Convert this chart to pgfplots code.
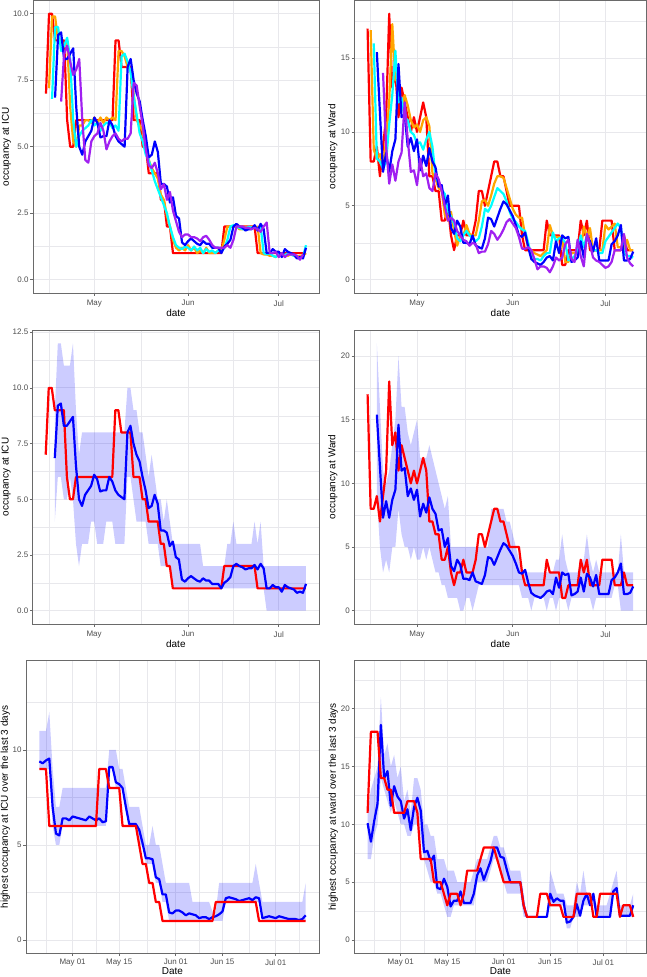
\documentclass[border=0pt]{standalone}
\usepackage{pgfplots}
\pgfplotsset{compat=1.18}
\usepackage{fontspec}
\setmainfont{Liberation Sans}
\definecolor{gg20}{HTML}{6A6A6A}
\definecolor{gg30}{HTML}{4D4D4D}
\definecolor{gg92}{HTML}{E8E8EC}
\definecolor{cR}{HTML}{FF0000}
\definecolor{cO}{HTML}{FFA500}
\definecolor{cC}{HTML}{00FFFF}
\definecolor{cB}{HTML}{0000FF}
\definecolor{cP}{HTML}{A020F0}
\pgfplotsset{
  gg/.style={
    scale only axis, anchor=south west,
    axis line style={draw=gg20, line width=0.8bp},
    tick pos=left, tick align=outside,
    major tick length=2.75bp, minor tick length=0bp,
    tick style={draw=gg20, line width=0.7bp},
    grid=both,
    major grid style={draw=gg92, line width=0.9bp},
    minor grid style={draw=gg92, line width=0.45bp},
    tick label style={font=\fontsize{8}{9}\selectfont, text=gg30, inner sep=1.5bp},
    xticklabel shift=3bp,
    label style={font=\fontsize{10}{12}\selectfont, text=black},
    xlabel style={at={(axis description cs:0.5,-0.069)}, anchor=center},
    every axis plot/.append style={line width=2.2bp, line join=round},
  },
  band/.style={fill=cB, fill opacity=0.2, draw=none, line width=0pt},
  ggA/.style={gg, xmin=9.7, xmax=104.3, xtick={30,61,91}, xticklabels={May,Jun,Jul}, minor xtick={15,45.5,76}, xlabel={date}},
  ggB/.style={gg, xmin=16, xmax=104, xtick={30,44,61,75,91}, xticklabels={May 01,May 15,Jun 01,Jun 15,Jul 01}, minor xtick={22,37,52.5,68,83,98}, xlabel={Date},
    xticklabel shift=1.5bp,
    xlabel style={at={(axis description cs:0.5,-0.062)}, anchor=center}},
}
\begin{document}
\begin{tikzpicture}
\path[use as bounding box] (0bp,0bp) rectangle (647bp,977bp);

% ---------- Panel 1: ICU, several horizons ----------
\begin{axis}[ggA, at={(33bp,684bp)}, width=286bp, height=292.5bp,
  ymin=-0.5, ymax=10.5, ytick={0,2.5,5,7.5,10}, yticklabels={0.0,2.5,5.0,7.5,10.0},
  minor ytick={1.25,3.75,6.25,8.75},
  ylabel={occupancy at ICU}, ylabel style={at={(axis description cs:-0.093,0.5)}, anchor=center}]
\addplot[cR] coordinates {(14,7)(15,10)(16,10)(17,9)(20,9)(21,6)(22,5)(23,5)(24,6)(36,6)(37,9)(38,9)(39,8)(42,8)(43,6)(45,6)(46,5)(47,5)(48,4)(51,4)(52,3)(53,3)(54,2)(55,2)(56,1)(72,1)(73,2)(83,2)(84,1)(100,1)};
\addplot[cO] coordinates {(15,7.2)(16,9.9)(17,9.9)(18,9.0)(19,9.0)(20,8.8)(21,9.0)(22,6.5)(23,5.2)(24,5.0)(25,5.8)(26,5.8)(27,6.0)(28,6.0)(29,5.9)(30,6.1)(31,5.9)(32,6.1)(33,5.9)(34,6.1)(35,6.0)(36,6.1)(37,6.0)(38,8.6)(39,8.6)(40,8.4)(41,8.0)(42,7.9)(43,7.0)(44,6.0)(45,5.8)(46,5.6)(47,5.0)(48,4.5)(49,4.2)(50,4.0)(51,3.8)(52,3.2)(53,3.0)(54,2.4)(55,2.0)(56,1.5)(57,1.2)(58,1.1)(59,1.2)(60,1.1)(61,1.3)(62,1.1)(63,1.2)(64,1.0)(65,1.1)(66,1.0)(67,1.2)(68,1.0)(69,1.0)(70,1.0)(71,1.1)(72,1.1)(73,1.5)(74,2.0)(75,2.0)(76,2.0)(77,2.0)(78,1.9)(79,1.9)(80,2.0)(81,1.9)(82,2.0)(83,1.95)(84,2.0)(85,1.0)(86,0.95)(87,0.95)(88,0.9)(89,0.9)(90,0.85)(91,0.95)(92,0.9)(93,0.95)(94,0.9)(95,0.95)(96,0.9)(97,0.85)(98,0.9)(99,0.9)(100,1.0)};
\addplot[cC] coordinates {(16,6.8)(17,9.5)(18,9.5)(19,8.6)(20,8.8)(21,9.1)(22,8.3)(23,6.0)(24,5.0)(25,5.4)(26,5.6)(27,5.7)(28,5.8)(29,6.0)(30,5.8)(31,5.9)(32,5.6)(33,5.8)(34,5.9)(35,5.9)(36,5.7)(37,5.8)(38,5.6)(39,8.4)(40,8.5)(41,8.2)(42,7.8)(43,6.9)(44,6.2)(45,5.5)(46,5.2)(47,4.7)(48,4.5)(49,4.1)(50,3.7)(51,3.4)(52,3.1)(53,2.8)(54,2.5)(55,2.0)(56,1.6)(57,1.3)(58,1.2)(59,1.15)(60,1.25)(61,1.2)(62,1.1)(63,1.25)(64,1.1)(65,1.2)(66,1.0)(67,1.15)(68,1.05)(69,1.1)(70,1.0)(71,1.1)(72,1.05)(73,1.2)(74,1.5)(75,2.0)(76,2.05)(77,2.0)(78,1.95)(79,1.9)(80,1.9)(81,2.0)(82,1.95)(83,2.0)(84,1.9)(85,2.0)(86,1.0)(87,0.95)(88,1.0)(89,0.9)(90,0.85)(91,1.0)(92,0.95)(93,0.9)(94,1.0)(95,0.95)(96,0.9)(97,0.85)(98,0.8)(99,0.85)(100,1.3)};
\addplot[cB] coordinates {(17,6.85)(18,9.2)(19,9.3)(20,8.3)(21,8.3)(22,8.5)(23,8.7)(24,6.5)(25,5.0)(26,4.7)(27,5.2)(28,5.4)(29,5.6)(30,6.1)(31,5.9)(32,5.35)(33,5.4)(34,5.4)(35,6.0)(36,5.8)(37,5.4)(38,5.2)(39,5.1)(40,5.0)(41,8.0)(42,8.3)(43,7.5)(44,7.0)(45,6.7)(46,6.0)(47,5.4)(48,4.6)(49,4.7)(50,5.2)(51,4.8)(52,3.6)(53,3.6)(54,3.5)(55,2.9)(56,3.1)(57,2.4)(58,2.3)(59,1.4)(60,1.3)(61,1.45)(62,1.55)(63,1.45)(64,1.35)(65,1.3)(66,1.45)(67,1.35)(68,1.35)(69,1.2)(70,1.2)(71,1.2)(72,1.0)(73,1.25)(74,1.35)(75,1.5)(76,2.0)(77,2.1)(78,2.0)(79,1.95)(80,1.85)(81,1.9)(82,1.9)(83,2.05)(84,1.85)(85,2.1)(86,1.9)(87,1.0)(88,1.0)(89,1.15)(90,1.05)(91,1.05)(92,0.85)(93,1.15)(94,1.05)(95,1.0)(96,0.95)(97,0.8)(98,0.85)(99,0.8)(100,1.2)};
\addplot[cP] coordinates {(19,6.7)(20,8.5)(21,8.8)(22,8.2)(23,7.7)(24,7.9)(25,8.3)(26,6.0)(27,4.5)(28,4.4)(29,5.2)(30,5.4)(31,5.5)(32,5.9)(33,5.6)(34,4.9)(35,5.2)(36,5.4)(37,5.5)(38,5.3)(39,5.2)(40,5.3)(41,5.3)(42,5.5)(43,7.4)(44,7.3)(45,6.5)(46,5.8)(47,4.9)(48,4.3)(49,4.2)(50,4.4)(51,4.0)(52,3.4)(53,3.6)(54,3.0)(55,3.3)(56,2.6)(57,2.2)(58,1.8)(59,1.6)(60,1.7)(61,1.7)(62,1.6)(63,1.6)(64,1.55)(65,1.45)(66,1.6)(67,1.65)(68,1.5)(69,1.3)(70,1.2)(71,1.2)(72,1.2)(73,1.2)(74,1.3)(75,1.2)(76,1.5)(77,2.0)(78,2.0)(79,2.0)(80,1.95)(81,1.95)(82,1.9)(83,1.95)(84,1.9)(85,1.8)(86,2.0)(87,2.15)(88,1.0)(89,1.0)(90,1.05)(91,0.85)(92,1.0)(93,0.85)(94,0.95)(95,0.95)(96,0.95)(97,0.9)(98,0.75)(99,0.95)};
\end{axis}

% ---------- Panel 2: Ward, several horizons ----------
\begin{axis}[ggA, at={(354.3bp,684bp)}, width=292.2bp, height=292.5bp,
  ymin=-0.9, ymax=18.9, ytick={0,5,10,15}, yticklabels={0,5,10,15},
  minor ytick={2.5,7.5,12.5,17.5},
  ylabel={occupancy at Ward}, ylabel style={at={(axis description cs:-0.074,0.5)}, anchor=center}]
\addplot[cR] coordinates {(14,17)(15,8)(16,8)(17,9)(18,7)(19,9)(20,11)(21,18)(22,13)(23,14)(24,11)(25,13)(26,12)(27,11)(28,10)(29,11)(30,10)(31,11)(32,12)(33,11)(34,7)(35,7)(36,6)(37,6)(38,4)(39,4)(40,5)(41,3)(42,2)(43,3)(44,3)(45,4)(46,3)(48,3)(49,4)(50,6)(51,6)(52,5)(53,6)(54,7)(55,8)(56,8)(57,7)(58,7)(59,6)(60,5)(63,5)(64,3)(65,2)(71,2)(72,4)(73,3)(76,3)(77,1)(78,1)(79,2)(82,2)(83,4)(84,3)(85,4)(86,2)(89,2)(90,4)(93,4)(94,2)(96,2)(97,3)(98,2)(100,2)};
\addplot[cO] coordinates {(15,16.9)(16,8.8)(17,8.2)(18,8.5)(19,7.6)(20,9.5)(21,12)(22,17.3)(23,13.5)(24,13.5)(25,11.5)(26,12.5)(27,11.8)(28,10.8)(29,10.3)(30,10.5)(31,10.0)(32,10.8)(33,11.0)(34,10.4)(35,7.2)(36,6.8)(37,6.2)(38,6.0)(39,4.4)(40,4.0)(41,4.6)(42,3.3)(43,2.3)(44,3.0)(45,3.0)(46,3.7)(47,3.1)(48,3.0)(49,3.0)(50,4.0)(51,5.3)(52,5.4)(53,5.0)(54,5.7)(55,6.5)(56,7.0)(57,7.0)(58,6.9)(59,6.2)(60,5.5)(61,4.8)(62,4.4)(63,4.2)(64,4.2)(65,3.0)(66,2.2)(67,2.0)(68,1.8)(69,1.7)(70,1.6)(71,1.8)(72,2.0)(73,3.7)(74,3.0)(75,2.9)(76,2.9)(77,2.8)(78,1.2)(79,1.2)(80,1.8)(81,1.8)(82,1.9)(83,2.0)(84,3.6)(85,2.9)(86,3.5)(87,2.0)(88,2.0)(89,2.0)(90,2.0)(91,3.7)(92,3.4)(93,3.6)(94,3.8)(95,2.2)(96,2.2)(97,2.0)(98,2.7)(99,2.0)(100,2.0)};
\addplot[cC] coordinates {(16,16)(17,8.2)(18,8.0)(19,7.5)(20,8.0)(21,10.5)(22,12.5)(23,15.5)(24,12.0)(25,12.3)(26,11.0)(27,10.8)(28,10.0)(29,9.8)(30,9.2)(31,9.3)(32,8.8)(33,9.5)(34,10.0)(35,9.0)(36,7.0)(37,6.5)(38,6.1)(39,5.8)(40,4.6)(41,4.3)(42,3.8)(43,2.8)(44,2.6)(45,3.0)(46,3.3)(47,3.0)(48,2.8)(49,2.6)(50,2.8)(51,3.6)(52,4.8)(53,4.6)(54,5.0)(55,5.6)(56,6.2)(57,6.0)(58,5.8)(59,5.3)(60,4.6)(61,4.1)(62,3.9)(63,3.6)(64,3.4)(65,3.3)(66,2.5)(67,1.6)(68,1.4)(69,1.4)(70,1.3)(71,1.6)(72,1.8)(73,1.8)(74,3.2)(75,2.6)(76,2.8)(77,2.8)(78,2.5)(79,1.3)(80,1.4)(81,1.6)(82,2.0)(83,3.0)(84,2.2)(85,3.0)(86,2.5)(87,2.0)(88,2.0)(89,1.8)(90,1.8)(91,2.6)(92,2.9)(93,3.2)(94,3.5)(95,3.8)(96,3.5)(97,1.8)(98,1.6)(99,1.6)(100,1.5)};
\addplot[cB] coordinates {(17,15.4)(18,11.3)(19,7.3)(20,8.6)(21,7.3)(22,8.7)(23,9.5)(24,14.6)(25,11.0)(26,11.2)(27,9.0)(28,9.6)(29,8.7)(30,9.5)(31,7.4)(32,8.4)(33,7.7)(34,8.9)(35,8.0)(36,7.6)(37,6.3)(38,6.4)(39,5.0)(40,5.7)(41,3.5)(42,3.1)(43,4.0)(44,3.6)(45,2.5)(46,2.5)(47,2.4)(48,3.0)(49,2.3)(50,2.2)(51,2.1)(52,2.8)(53,4.2)(54,4.1)(55,3.6)(56,4.2)(57,4.8)(58,5.3)(59,5.1)(60,4.7)(61,4.3)(62,3.7)(63,3.0)(64,2.9)(65,3.2)(66,2.2)(67,1.4)(68,1.2)(69,1.1)(70,1.0)(71,1.2)(72,1.5)(73,1.6)(74,1.3)(75,2.6)(76,1.8)(77,3.0)(78,2.8)(79,2.9)(80,1.2)(81,1.3)(82,1.5)(83,2.6)(84,1.5)(85,2.9)(86,2.6)(87,1.9)(88,2.8)(89,1.3)(90,1.3)(91,1.3)(92,1.3)(93,2.4)(94,2.6)(95,3.0)(96,3.7)(97,1.3)(98,1.3)(99,1.4)(100,1.9)};
\addplot[cP] coordinates {(19,14)(20,9)(21,6.5)(22,7.8)(23,6.7)(24,8)(25,8.6)(26,12)(27,9.5)(28,7.3)(29,7.4)(30,6.4)(31,8.2)(32,7.0)(33,7.2)(34,6.2)(35,6.0)(36,7.2)(37,6.8)(38,6.0)(39,5.0)(40,4.0)(41,4.2)(42,4.0)(43,3.3)(44,3.0)(45,2.7)(46,2.6)(47,2.3)(48,2.5)(49,2.4)(50,1.8)(51,1.9)(52,1.9)(53,2.4)(54,3.3)(55,3.1)(56,2.7)(57,3.0)(58,3.4)(59,3.9)(60,4.1)(61,3.8)(62,3.5)(63,2.9)(64,2.1)(65,2.1)(66,2.2)(67,2.0)(68,1.4)(69,0.7)(70,0.9)(71,0.9)(72,0.8)(73,0.5)(74,0.9)(75,1.5)(76,1.3)(77,1.5)(78,2.4)(79,2.7)(80,1.4)(81,1.2)(82,2.7)(83,1.6)(84,0.9)(85,3.1)(86,2.4)(87,1.5)(88,1.3)(89,1.2)(90,1.0)(91,0.8)(92,0.9)(93,1.2)(94,2.0)(95,2.0)(96,2.0)(97,3.1)(98,1.5)(99,1.1)(100,0.9)};
\end{axis}

% ---------- Panel 3: ICU with band ----------
\begin{axis}[ggA, at={(32.7bp,353bp)}, width=286.3bp, height=294bp,
  ymin=-0.6, ymax=12.6, ytick={0,2.5,5,7.5,10,12.5}, yticklabels={0.0,2.5,5.0,7.5,10.0,12.5},
  minor ytick={1.25,3.75,6.25,8.75,11.25},
  ylabel={occupancy at ICU}, ylabel style={at={(axis description cs:-0.093,0.5)}, anchor=center}]
% band: upper bound forward, lower bound backward
\addplot[band] coordinates {(17,9)(18,12)(19,12)(20,11)(22,11)(23,12)(24,9)(25,7)(26,8)(40,8)(41,10)(42,10)(43,9)(44,9)(45,8)(46,8)(47,7)(48,6)(49,7)(50,6)(51,5)(52,5)(53,4)(54,5)(55,4)(56,3)(65,3)(66,2)(73,2)(74,3)(75,3)(76,4)(77,3)(82,3)(83,4)(84,3)(85,4)(86,2)(100,2)
 (100,0)(87,0)(86,1)(56,1)(55,2)(52,2)(51,3)(48,3)(47,4)(44,4)(43,5)(42,6)(41,6)(40,3)(37,3)(36,4)(34,4)(33,3)(31,3)(30,4)(29,4)(28,3)(26,3)(25,2)(24,3)(23,5)(22,6)(21,5)(20,5)(19,6)(18,6)(17,4)};
\addplot[cR] coordinates {(14,7)(15,10)(16,10)(17,9)(20,9)(21,6)(22,5)(23,5)(24,6)(36,6)(37,9)(38,9)(39,8)(42,8)(43,6)(45,6)(46,5)(47,5)(48,4)(51,4)(52,3)(53,3)(54,2)(55,2)(56,1)(72,1)(73,2)(83,2)(84,1)(100,1)};
\addplot[cB] coordinates {(17,6.85)(18,9.2)(19,9.3)(20,8.3)(21,8.3)(22,8.5)(23,8.7)(24,6.5)(25,5.0)(26,4.7)(27,5.2)(28,5.4)(29,5.6)(30,6.1)(31,5.9)(32,5.35)(33,5.4)(34,5.4)(35,6.0)(36,5.8)(37,5.4)(38,5.2)(39,5.1)(40,5.0)(41,8.0)(42,8.3)(43,7.5)(44,7.0)(45,6.7)(46,6.0)(47,5.4)(48,4.6)(49,4.7)(50,5.2)(51,4.8)(52,3.6)(53,3.6)(54,3.5)(55,2.9)(56,3.1)(57,2.4)(58,2.3)(59,1.4)(60,1.3)(61,1.45)(62,1.55)(63,1.45)(64,1.35)(65,1.3)(66,1.45)(67,1.35)(68,1.35)(69,1.2)(70,1.2)(71,1.2)(72,1.0)(73,1.25)(74,1.35)(75,1.5)(76,2.0)(77,2.1)(78,2.0)(79,1.95)(80,1.85)(81,1.9)(82,1.9)(83,2.05)(84,1.85)(85,2.1)(86,1.9)(87,1.0)(88,1.0)(89,1.15)(90,1.05)(91,1.05)(92,0.85)(93,1.15)(94,1.05)(95,1.0)(96,0.95)(97,0.8)(98,0.85)(99,0.8)(100,1.2)};
\end{axis}

% ---------- Panel 4: Ward with band ----------
\begin{axis}[ggA, at={(354.3bp,353bp)}, width=292.2bp, height=294bp,
  ymin=-1.05, ymax=22.05, ytick={0,5,10,15,20}, yticklabels={0,5,10,15,20},
  minor ytick={2.5,7.5,12.5,17.5},
  ylabel={occupancy at Ward}, ylabel style={at={(axis description cs:-0.074,0.5)}, anchor=center}]
\addplot[band] coordinates {(17,21)(18,16)(19,11)(20,10)(21,11)(22,13)(23,15)(24,20)(25,16)(26,16)(27,14)(28,13)(29,14)(30,15)(31,12)(33,12)(34,13)(35,12)(36,11)(37,10)(38,9)(39,8)(40,9)(41,5)(53,5)(54,8)(58,8)(59,7)(60,7)(61,6)(62,5)(63,4)(64,3)(74,3)(75,4)(76,4)(77,6)(78,4)(79,3)(82,3)(83,4)(84,4)(85,6)(86,4)(87,3)(88,4)(89,3)(95,3)(96,6)(97,3)(100,3)
 (100,0)(96,0)(95,2)(94,2)(93,1)(88,1)(87,0)(86,1)(80,1)(79,0)(78,1)(76,1)(75,0)(74,1)(73,1)(72,0)(71,1)(68,1)(67,0)(66,1)(64,1)(63,2)(50,2)(49,1)(48,0)(47,1)(46,1)(45,0)(44,0)(43,1)(40,1)(39,2)(38,2)(37,3)(36,3)(35,4)(34,5)(33,4)(32,5)(31,4)(30,4)(29,5)(28,4)(27,5)(26,5)(25,6)(24,8)(23,5)(22,5)(21,3)(20,4)(19,3)(18,5)(17,9)};
\addplot[cR] coordinates {(14,17)(15,8)(16,8)(17,9)(18,7)(19,9)(20,11)(21,18)(22,13)(23,14)(24,11)(25,13)(26,12)(27,11)(28,10)(29,11)(30,10)(31,11)(32,12)(33,11)(34,7)(35,7)(36,6)(37,6)(38,4)(39,4)(40,5)(41,3)(42,2)(43,3)(44,3)(45,4)(46,3)(48,3)(49,4)(50,6)(51,6)(52,5)(53,6)(54,7)(55,8)(56,8)(57,7)(58,7)(59,6)(60,5)(63,5)(64,3)(65,2)(71,2)(72,4)(73,3)(76,3)(77,1)(78,1)(79,2)(82,2)(83,4)(84,3)(85,4)(86,2)(89,2)(90,4)(93,4)(94,2)(96,2)(97,3)(98,2)(100,2)};
\addplot[cB] coordinates {(17,15.4)(18,11.3)(19,7.3)(20,8.6)(21,7.3)(22,8.7)(23,9.5)(24,14.6)(25,11.0)(26,11.2)(27,9.0)(28,9.6)(29,8.7)(30,9.5)(31,7.4)(32,8.4)(33,7.7)(34,8.9)(35,8.0)(36,7.6)(37,6.3)(38,6.4)(39,5.0)(40,5.7)(41,3.5)(42,3.1)(43,4.0)(44,3.6)(45,2.5)(46,2.5)(47,2.4)(48,3.0)(49,2.3)(50,2.2)(51,2.1)(52,2.8)(53,4.2)(54,4.1)(55,3.6)(56,4.2)(57,4.8)(58,5.3)(59,5.1)(60,4.7)(61,4.3)(62,3.7)(63,3.0)(64,2.9)(65,3.2)(66,2.2)(67,1.4)(68,1.2)(69,1.1)(70,1.0)(71,1.2)(72,1.5)(73,1.6)(74,1.3)(75,2.6)(76,1.8)(77,3.0)(78,2.8)(79,2.9)(80,1.2)(81,1.3)(82,1.5)(83,2.6)(84,1.5)(85,2.9)(86,2.6)(87,1.9)(88,2.8)(89,1.3)(90,1.3)(91,1.3)(92,1.3)(93,2.4)(94,2.6)(95,3.0)(96,3.7)(97,1.3)(98,1.3)(99,1.4)(100,1.9)};
\end{axis}

% ---------- Panel 5: ICU max over last 3 days ----------
\begin{axis}[ggB, at={(26bp,23.7bp)}, width=293bp, height=292.6bp,
  ymin=-0.7, ymax=14.7, ytick={0,5,10}, yticklabels={0,5,10},
  minor ytick={2.5,7.5,12.5},
  ylabel={highest occupancy at ICU over the last 3 days}, ylabel style={at={(axis description cs:-0.071,0.5)}, anchor=center}]
\addplot[band] coordinates {(20,11)(22,11)(23,12)(24,9)(25,7)(26,7)(27,8)(40,8)(41,10)(43,10)(44,9)(45,9)(46,8)(47,7)(50,7)(51,6)(52,5)(53,5)(54,6)(55,5)(56,5)(57,4)(58,3)(65,3)(66,2)(71,2)(72,1.5)(73,1.5)(74,3)(84,3)(85,4)(86,3)(87,2)(99,2)(100,3)
 (100,1)(87,1)(86,2)(76,2)(75,1)(59,1)(58,2)(57,2)(56,3)(55,3)(54,4)(52,4)(51,5)(50,5)(49,6)(47,6)(46,7)(45,8)(43,8)(42,9)(41,9)(40,6)(27,6)(26,5)(25,5)(24,6)(23,9)(20,9)};
\addplot[cB] coordinates {(20,9.4)(21,9.3)(22,9.45)(23,9.55)(24,7.0)(25,5.6)(26,5.5)(27,6.4)(28,6.4)(29,6.3)(30,6.5)(31,6.45)(32,6.4)(33,6.35)(34,6.3)(35,6.5)(36,6.4)(37,6.3)(38,6.4)(39,6.2)(40,6.25)(41,9.1)(42,9.1)(43,8.3)(44,8.2)(45,8.0)(46,7.0)(47,6.1)(48,6.1)(49,6.1)(50,5.8)(51,5.1)(52,4.3)(53,4.3)(54,4.25)(55,3.3)(56,3.2)(57,2.4)(58,2.4)(59,1.45)(60,1.4)(61,1.55)(62,1.55)(63,1.45)(64,1.3)(65,1.4)(66,1.35)(67,1.3)(68,1.15)(69,1.2)(70,1.2)(71,1.1)(72,1.2)(73,1.25)(74,1.35)(75,1.5)(76,2.2)(77,2.25)(78,2.2)(79,2.15)(80,2.05)(81,2.1)(82,2.15)(83,2.2)(84,2.1)(85,2.25)(86,2.2)(87,1.15)(88,1.2)(89,1.25)(90,1.2)(91,1.15)(92,1.25)(93,1.2)(94,1.15)(95,1.1)(96,1.1)(97,1.1)(98,1.05)(99,1.1)(100,1.3)};
\addplot[cR] coordinates {(20,9)(22,9)(23,6)(37,6)(38,9)(40,9)(41,8)(44,8)(45,6)(49,6)(50,5)(51,4)(52,4)(53,3)(54,3)(55,2)(56,2)(57,1)(72,1)(73,2)(85,2)(86,1)(100,1)};
\end{axis}

% ---------- Panel 6: Ward max over last 3 days ----------
\begin{axis}[ggB, at={(354.3bp,23.7bp)}, width=292.2bp, height=292.6bp,
  ymin=-1.15, ymax=24.15, ytick={0,5,10,15,20}, yticklabels={0,5,10,15,20},
  minor ytick={2.5,7.5,12.5,17.5,22.5},
  ylabel={highest occupancy at ward over the last 3 days}, ylabel style={at={(axis description cs:-0.072,0.5)}, anchor=center}]
\addplot[band] coordinates {(20,11)(21,13)(22,14)(23,15)(24,21)(25,16)(26,17)(27,15)(28,16)(29,14)(30,15)(31,12)(32,13)(33,11)(34,14)(35,14)(36,13)(37,10)(38,10)(39,9)(40,9)(41,7)(43,7)(44,6)(46,6)(47,5)(51,5)(52,6)(53,7)(56,7)(57,8)(58,9)(59,9)(60,8)(61,8)(62,7)(63,6)(66,6)(67,4)(68,2)(74,2)(75,6)(76,5)(77,4)(79,4)(80,3)(82,3)(83,5)(84,4)(85,6)(86,4)(88,4)(89,3)(92,3)(93,4)(94,5)(95,6)(96,3)(99,3)(100,4)
 (100,2)(96,2)(95,4)(94,4)(93,2)(89,2)(88,3)(85,3)(84,2)(82,2)(81,1)(80,1)(79,3)(75,3)(74,2)(67,2)(66,4)(62,4)(61,5)(60,6)(59,7)(58,7)(57,6)(56,5)(53,5)(52,3)(51,3)(46,3)(45,2)(44,2)(43,3)(42,4)(41,4)(40,5)(39,5)(38,6)(37,7)(36,9)(35,10)(34,10)(33,9)(32,9)(31,10)(30,10)(29,11)(28,12)(27,11)(26,12)(25,13)(24,14)(23,10)(22,9)(21,7)(20,7)};
\addplot[cB] coordinates {(20,10.1)(21,8.5)(22,10.3)(23,11.8)(24,18.6)(25,14.0)(26,14.6)(27,11.6)(28,13.3)(29,12.4)(30,12.0)(31,10.5)(32,11.3)(33,9.5)(34,11.5)(35,12.3)(36,11.2)(37,7.6)(38,7.7)(39,6.8)(40,7.3)(41,4.5)(42,4.4)(43,5.3)(44,4.6)(45,2.9)(46,3.4)(47,3.4)(48,4.2)(49,3.2)(50,3.2)(51,3.2)(52,4.0)(53,5.6)(54,6.2)(55,5.2)(56,6.0)(57,6.8)(58,8.0)(59,8.0)(60,7.2)(61,7.1)(62,6.0)(63,5.0)(66,5.0)(67,3.0)(68,2.0)(74,2.0)(75,4.0)(76,3.3)(77,3.6)(78,3.4)(79,3.4)(80,1.5)(81,1.6)(82,2.0)(83,3.1)(84,2.1)(85,3.4)(86,4.0)(87,3.0)(88,4.0)(89,2.0)(93,2.0)(94,4.2)(95,4.5)(96,2.1)(99,2.1)(100,3.0)};
\addplot[cR] coordinates {(20,11)(21,18)(23,18)(24,14)(25,14)(26,13)(27,13)(28,11)(31,11)(32,12)(34,12)(35,11)(36,7)(39,7)(40,5)(42,5)(43,4)(44,3)(45,4)(47,4)(48,3)(49,4)(50,6)(53,6)(54,7)(55,8)(58,8)(59,7)(60,6)(61,5)(66,5)(67,3)(68,2)(71,2)(72,4)(74,4)(75,3)(78,3)(79,2)(82,2)(83,4)(87,4)(88,2)(89,2)(90,4)(95,4)(96,2)(97,3)(99,3)(100,2)};
\end{axis}
\end{tikzpicture}
\end{document}
